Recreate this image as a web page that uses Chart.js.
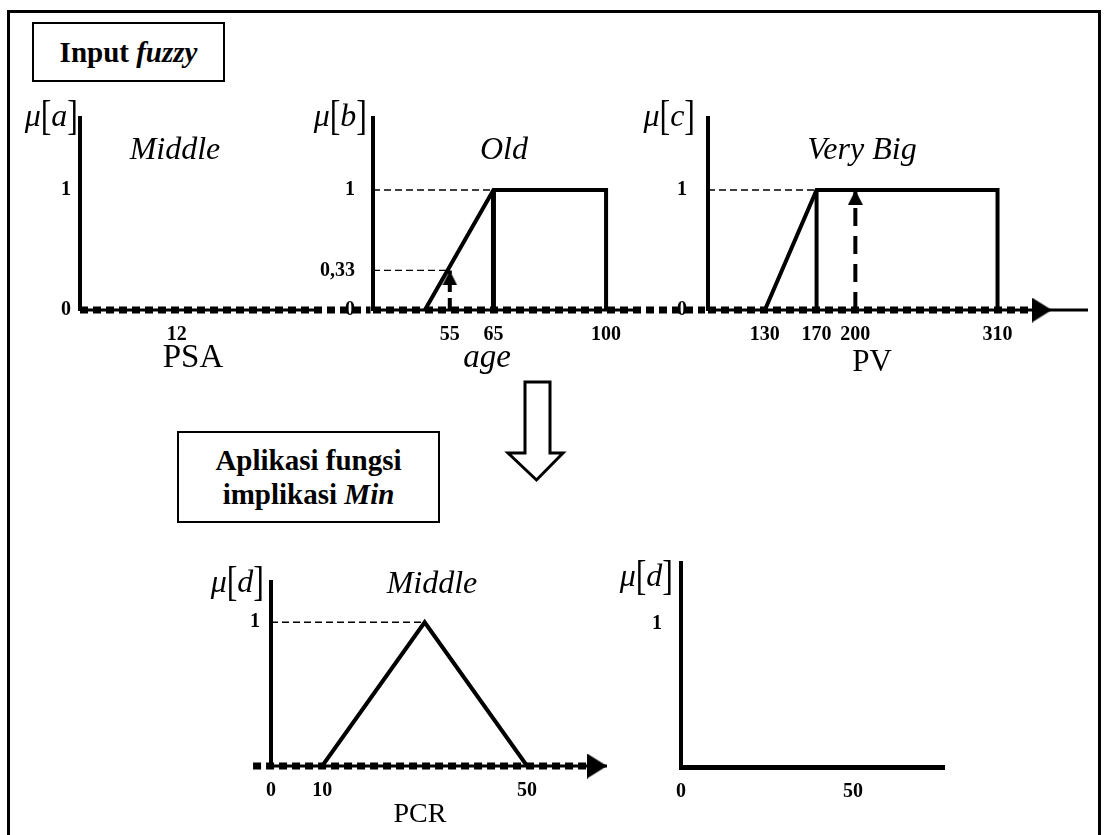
<!DOCTYPE html>
<html>
<head>
<meta charset="utf-8">
<script src="https://cdn.jsdelivr.net/npm/chart.js@4.4.1/dist/chart.umd.min.js"></script>
<style>
  html, body { margin: 0; padding: 0; background: #fff; overflow: hidden; }
  body { width: 1109px; height: 835px; position: relative; color: #000;
         font-family: 'Liberation Serif', 'Times New Roman', serif; }
  .frame { position: absolute; left: 7px; top: 10px; width: 1088px; height: 900px; border: 3px solid #000; }
  .panel { position: absolute; left: 0; top: 0; }
  .txt { position: absolute; transform: translate(-50%, -50%); white-space: nowrap; line-height: 1; z-index: 2; }
  .box { position: absolute; box-sizing: border-box; border: 2px solid #000; display: flex; align-items: center;
         justify-content: center; text-align: center; font-weight: bold; font-size: 29px; line-height: 1.18; }
  .mu { position: absolute; transform: translateX(-100%); font-size: 32px; line-height: 1; white-space: nowrap; z-index: 2; }
  .mu .br { display: inline-block; transform: scaleY(1.3); }
</style>
</head>
<body>
<div class="frame"></div>

<div class="box" style="left:32px; top:22px; width:193px; height:60px;"><div>Input <i>fuzzy</i></div></div>
<div class="box" style="left:177px; top:431px; width:263px; height:92px;"><div>Aplikasi fungsi<br>implikasi <i>Min</i></div></div>

<svg style="position:absolute; left:0; top:0;" width="1109" height="835">
  <polygon points="525,382 550,382 550,453 563,453 536.5,480 508,453 525,453"
           fill="#fff" stroke="#000" stroke-width="3" stroke-linejoin="miter"/>
</svg>

<div class="mu" style="left:78px; top:99px;"><i>μ</i><span class="br">[</span><i>a</i><span class="br">]</span></div>
<div class="mu" style="left:367px; top:99px;"><i>μ</i><span class="br">[</span><i>b</i><span class="br">]</span></div>
<div class="mu" style="left:695px; top:99px;"><i>μ</i><span class="br">[</span><i>c</i><span class="br">]</span></div>
<div class="mu" style="left:264px; top:565px;"><i>μ</i><span class="br">[</span><i>d</i><span class="br">]</span></div>
<div class="mu" style="left:673px; top:559px;"><i>μ</i><span class="br">[</span><i>d</i><span class="br">]</span></div>

<div class="txt" style="left:175px; top:148px; font-size:32px;"><i>Middle</i></div>
<div class="txt" style="left:504px; top:148px; font-size:32px;"><i>Old</i></div>
<div class="txt" style="left:862px; top:148px; font-size:32px;"><i>Very Big</i></div>
<div class="txt" style="left:432px; top:582px; font-size:32px;"><i>Middle</i></div>
<div class="txt" style="left:193px; top:356px; font-size:33px;">PSA</div>
<div class="txt" style="left:487px; top:356px; font-size:33px;"><i>age</i></div>
<div class="txt" style="left:872px; top:360px; font-size:31px;">PV</div>
<div class="txt" style="left:420px; top:813px; font-size:28px;">PCR</div>

<script>
Chart.defaults.font.family = "'Liberation Serif', 'Times New Roman', serif";
Chart.defaults.color = '#000';

// membership degree ticks
const muTicks = [0, 1];
const ageMuTicks = [0, 0.33, 1];
const outMuTicks = [1];

// PSA – Middle (no membership drawn)
const psaTicks = [12];

// age – Old
const ageTicks = [55, 65, 100];
const ageOldX = [50, 65, 100, 100];
const ageOldMu = [0, 1, 1, 0];
const ageInput = 55;
const ageInputMu = 0.33;

// PV – Very Big
const pvTicks = [130, 170, 200, 310];
const pvBigX = [130, 170, 310, 310];
const pvBigMu = [0, 1, 1, 0];
const pvInput = 200;
const pvInputMu = 1;

// PCR – Middle
const pcrTicks = [0, 10, 50];
const pcrMiddleX = [10, 30, 50];
const pcrMiddleMu = [0, 1, 0];

// result axis
const outTicks = [0, 50];

const pts = (xs, ys) => xs.map((x, i) => ({ x: x, y: ys[i] }));
const seg = (x0, y0, x1, y1) => [{ x: x0, y: y0 }, { x: x1, y: y1 }];

// filled arrow head, tip in the middle of the image so the point sits on the tip
function arrowHead(len, wid) {
  const c = document.createElement('canvas');
  c.width = wid;
  c.height = len * 2;
  const g = c.getContext('2d');
  g.fillStyle = '#000';
  g.beginPath();
  g.moveTo(wid / 2, len);
  g.lineTo(wid, len * 2);
  g.lineTo(0, len * 2);
  g.closePath();
  g.fill();
  return c;
}
const bigHead = arrowHead(20, 25);
const smallHead = arrowHead(15, 15);

function line(data, width, dash, extra) {
  return Object.assign({
    data: data, showLine: true, borderColor: '#000', borderWidth: width,
    borderDash: dash || [], pointRadius: 0, borderCapStyle: 'butt', borderJoinStyle: 'miter'
  }, extra || {});
}
function head(x, y, img, rot) {
  return { data: [{ x: x, y: y }], showLine: false, pointStyle: img, pointRadius: 4,
           rotation: rot || 0, clip: false };
}
// the thick square-dotted axis and the thin solid one under it
const dots = (x0, x1) => line(seg(x0, 0, x1, 0), 7, [8, 5], { clip: false });
const base = (x0, x1) => line(seg(x0, 0, x1, 0), 3, [], { clip: false });
const guide = (x0, x1, y) => line(seg(x0, y, x1, y), 1.3, [7, 4]);

function panelOptions(o) {
  return {
    responsive: true,
    maintainAspectRatio: false,
    animation: false,
    devicePixelRatio: 1,
    events: [],
    layout: { padding: 0 },
    plugins: { legend: { display: false }, tooltip: { enabled: false } },
    scales: {
      x: {
        type: o.xType || 'linear', min: o.xMin, max: o.xMax,
        grid: { display: false, drawTicks: false },
        border: o.xBorder ? { display: true, width: o.xBorder, color: '#000' } : { display: false },
        afterBuildTicks: s => { s.ticks = o.xTicks.map(v => ({ value: v })); },
        ticks: { autoSkip: false, maxRotation: 0, padding: 13, color: '#000',
                 font: { size: 20, weight: 'bold' }, callback: v => String(v) }
      },
      y: {
        min: 0, max: o.yMax,
        grid: { display: false, drawTicks: false },
        border: { display: true, width: 4, color: '#000' },
        afterBuildTicks: s => { s.ticks = o.yTicks.map(v => ({ value: v })); },
        ticks: { autoSkip: false, padding: o.yPad, color: '#000',
                 font: { size: 20, weight: 'bold' }, callback: v => String(v).replace('.', ',') }
      }
    }
  };
}

// size the canvas so the plot area has the wanted size, then move it into place
function buildPanel(area, opts, datasets) {
  const wrap = document.createElement('div');
  wrap.className = 'panel';
  wrap.style.width = (area.right - area.left + 80) + 'px';
  wrap.style.height = (area.bottom - area.top + 80) + 'px';
  const cv = document.createElement('canvas');
  wrap.appendChild(cv);
  document.body.appendChild(wrap);
  const chart = new Chart(cv, { type: 'scatter', data: { datasets: datasets }, options: panelOptions(opts) });
  for (let pass = 0; pass < 3; pass++) {
    const ca = chart.chartArea;
    wrap.style.width = (wrap.offsetWidth + (area.right - area.left) - (ca.right - ca.left)) + 'px';
    wrap.style.height = (wrap.offsetHeight + (area.bottom - area.top) - (ca.bottom - ca.top)) + 'px';
    chart.resize();
  }
  wrap.style.left = (area.left - chart.chartArea.left) + 'px';
  wrap.style.top = (area.top - chart.chartArea.top) + 'px';
  return chart;
}

// PSA
buildPanel({ left: 80, right: 370, top: 118, bottom: 310 },
  { xMin: 0, xMax: 36, xTicks: psaTicks, yMax: 1.6, yTicks: muTicks, yPad: 9 },
  [dots(0, 36), base(0, 29)]);

// age
buildPanel({ left: 373, right: 705, top: 118, bottom: 310 },
  { xType: 'logarithmic', xMin: 41, xMax: 146, xTicks: ageTicks, yMax: 1.6, yTicks: ageMuTicks, yPad: 18 },
  [
    head(ageInput, ageInputMu, smallHead),
    line(seg(ageInput, 0, ageInput, ageInputMu), 4, [12, 6]),
    dots(41, 146),
    line(pts(ageOldX, ageOldMu), 4),
    line(seg(ageOldX[1], 0, ageOldX[1], ageOldMu[1]), 5),
    base(41, 112),
    guide(41, ageOldX[1], 1),
    guide(41, ageInput, ageInputMu)
  ]);

// PV
buildPanel({ left: 708, right: 1088, top: 118, bottom: 310 },
  { xMin: 86, xMax: 380, xTicks: pvTicks, yMax: 1.6, yTicks: muTicks, yPad: 21 },
  [
    head(352, 0, bigHead, 90),
    head(pvInput, pvInputMu, smallHead),
    line(seg(pvInput, 0, pvInput, pvInputMu), 4, [18, 10]),
    dots(86, 345),
    line(pts(pvBigX, pvBigMu), 4),
    line(seg(pvBigX[1], 0, pvBigX[1], pvBigMu[1]), 4),
    base(86, 380),
    guide(86, pvBigX[1], 1)
  ]);

// PCR
buildPanel({ left: 271, right: 607, top: 582, bottom: 766 },
  { xMin: 0, xMax: 65.6, xTicks: pcrTicks, yMax: 1.28, yTicks: outMuTicks, yPad: 11 },
  [
    head(65.6, 0, bigHead, 90),
    dots(-3.5, 62),
    line(pts(pcrMiddleX, pcrMiddleMu), 4),
    base(0, 65.6),
    guide(0, pcrMiddleX[1], 1)
  ]);

// result
buildPanel({ left: 681, right: 945, top: 563, bottom: 767 },
  { xMin: 0, xMax: 76.7, xTicks: outTicks, xBorder: 5, yMax: 1.42, yTicks: outMuTicks, yPad: 19 },
  []);
</script>
</body>
</html>
